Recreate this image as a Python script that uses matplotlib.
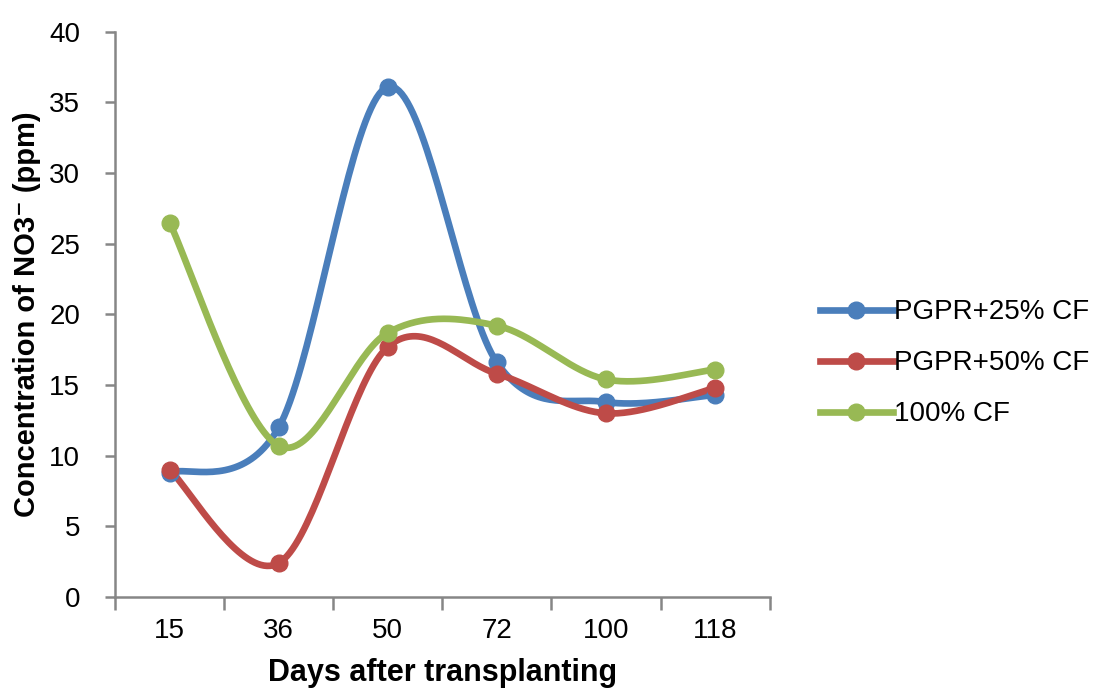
import matplotlib
matplotlib.use("Agg")
import matplotlib.pyplot as plt
import numpy as np

days = ["15", "36", "50", "72", "100", "118"]
pgpr_25 = [8.8, 12.0, 36.1, 16.6, 13.8, 14.3]
pgpr_50 = [9.0, 2.4, 17.7, 15.8, 13.0, 14.8]
cf_100 = [26.5, 10.7, 18.7, 19.2, 15.4, 16.1]

series = [
    ("PGPR+25% CF", pgpr_25, "#4A7EBB"),
    ("PGPR+50% CF", pgpr_50, "#BE4B48"),
    ("100% CF", cf_100, "#98B954"),
]

AXIS_GRAY = "#868686"
LINE_W = 4.8
MARKER = 12


def smooth_curve(x, y, steps=40):
    # Excel-style smoothed line: cubic Bezier with Catmull-Rom control points
    pts = np.column_stack([x, y]).astype(float)
    out = [pts[0]]
    t = np.linspace(0, 1, steps)[1:, None]
    for i in range(len(pts) - 1):
        p0 = pts[max(i - 1, 0)]
        p1 = pts[i]
        p2 = pts[i + 1]
        p3 = pts[min(i + 2, len(pts) - 1)]
        c1 = p1 + (p2 - p0) / 6
        c2 = p2 - (p3 - p1) / 6
        seg = ((1 - t) ** 3) * p1 + 3 * ((1 - t) ** 2) * t * c1 + 3 * (1 - t) * t ** 2 * c2 + t ** 3 * p2
        out.extend(seg)
    out = np.array(out)
    return out[:, 0], out[:, 1]


plt.rcParams.update({"font.family": ["Liberation Sans", "DejaVu Sans"], "font.size": 20})

fig = plt.figure(figsize=(11.01, 6.91), dpi=100)
ax = fig.add_axes([0.1045, 0.136, 0.5945, 0.818])

x = np.arange(len(days))
for label, values, color in series:
    xs, ys = smooth_curve(x, values)
    ax.plot(xs, ys, color=color, linewidth=LINE_W, solid_capstyle="round", zorder=2)
    ax.plot(x, values, linestyle="none", marker="o", markersize=MARKER, color=color, zorder=3)
    ax.plot([], [], color=color, linewidth=LINE_W, marker="o", markersize=MARKER, label=label)

ax.set_xlim(-0.5, len(days) - 0.5)
ax.set_ylim(0, 40)
ax.set_yticks(np.arange(0, 41, 5))
ax.set_xticks(np.arange(-0.5, len(days), 1.0))
ax.set_xticklabels([])
ax.set_xticks(x, minor=True)
ax.set_xticklabels(days, minor=True)
ax.tick_params(axis="x", which="major", length=9, width=1.8, color=AXIS_GRAY, direction="out")
ax.tick_params(axis="x", which="minor", length=0, pad=15, labelsize=20)
ax.tick_params(axis="y", length=7, width=1.8, color=AXIS_GRAY, direction="out", pad=18, labelsize=20)

for side in ("top", "right"):
    ax.spines[side].set_visible(False)
for side in ("left", "bottom"):
    ax.spines[side].set_color(AXIS_GRAY)
    ax.spines[side].set_linewidth(1.8)

ax.set_xlabel("Days after transplanting", fontsize=22, fontweight="bold", labelpad=10)
ax.set_ylabel("Concentration of NO3\u207b (ppm)", fontsize=21, fontweight="bold", labelpad=6)

fig.legend(
    loc="center left",
    bbox_to_anchor=(0.735, 0.474),
    frameon=False,
    fontsize=20,
    handlelength=2.6,
    handletextpad=0.05,
    labelspacing=0.9,
    borderaxespad=0.0,
)

fig.savefig("out.png", dpi=100, facecolor="white")
